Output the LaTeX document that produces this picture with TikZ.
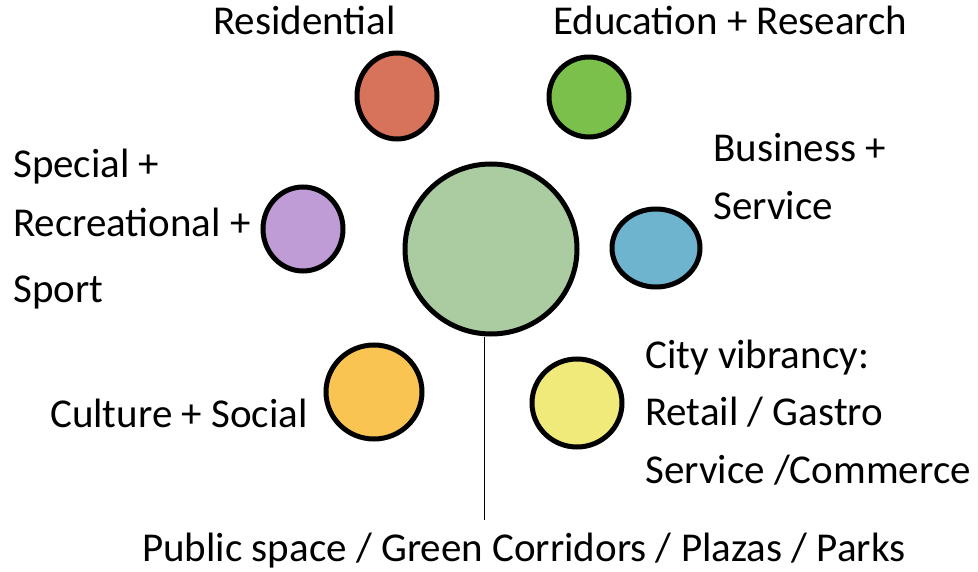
\documentclass[tikz,border=0pt]{standalone}
\usepackage{fontspec}
\setmainfont{Carlito}
\usepackage{xcolor}
\usepackage{tikz}
\usetikzlibrary{shapes.geometric}
\definecolor{cres}{RGB}{214,115,90}
\definecolor{cedu}{RGB}{122,192,74}
\definecolor{cspo}{RGB}{192,156,214}
\definecolor{cpub}{RGB}{170,204,160}
\definecolor{cbus}{RGB}{110,180,206}
\definecolor{ccul}{RGB}{250,196,82}
\definecolor{cvib}{RGB}{240,234,122}
\tikzset{
  blob/.style ={ellipse, draw=black, line width=5pt, inner sep=0pt},
  lbl/.style  ={font=\fontsize{41}{48}\selectfont, inner sep=0pt, anchor=base west},
  lnk/.style  ={draw=black, line width=1pt}
}

\begin{document}
\begin{tikzpicture}[x=1pt,y=-1pt]
\useasboundingbox (0,0) rectangle (978,572);

\node[blob, fill=cres, minimum width=80pt, minimum height=86pt] (res) at (397,96) {};
\node[blob, fill=cedu, minimum width=80pt, minimum height=80pt] (edu) at (589,97) {};
\node[blob, fill=cspo, minimum width=80pt, minimum height=84pt] (spo) at (303,229) {};
\node[blob, fill=cpub, minimum width=172pt, minimum height=170pt] (pub) at (491,249) {};
\node[blob, fill=cbus, minimum width=88pt, minimum height=78pt] (bus) at (656,248) {};
\node[blob, fill=ccul, minimum width=96pt, minimum height=94pt] (cul) at (374,392) {};
\node[blob, fill=cvib, minimum width=90pt, minimum height=88pt] (vib) at (577,403) {};

\node[lbl] (tres) at (213,35) {Residential};
\node[lbl] (tedu) at (553,35) {Education + Research};
\node[lbl] (tbus1) at (713,162) {Business +};
\node[lbl] (tbus2) at (713,220) {Service};
\node[lbl] (tspo1) at (13,178) {Special +};
\node[lbl] (tspo2) at (13,237) {Recreational +};
\node[lbl] (tspo3) at (13,303) {Sport};
\node[lbl] (tcul) at (50,427) {Culture + Social};
\node[lbl] (tvib1) at (645,368) {City vibrancy:};
\node[lbl] (tvib2) at (645,425) {Retail / Gastro};
\node[lbl] (tvib3) at (645,483) {Service /Commerce};
\node[lbl] (tpub) at (142,561) {Public space / Green Corridors / Plazas / Parks};

\coordinate (pubend) at (484,520);
\draw[lnk] (pub.south -| pubend) -- (pubend);
\end{tikzpicture}
\end{document}
